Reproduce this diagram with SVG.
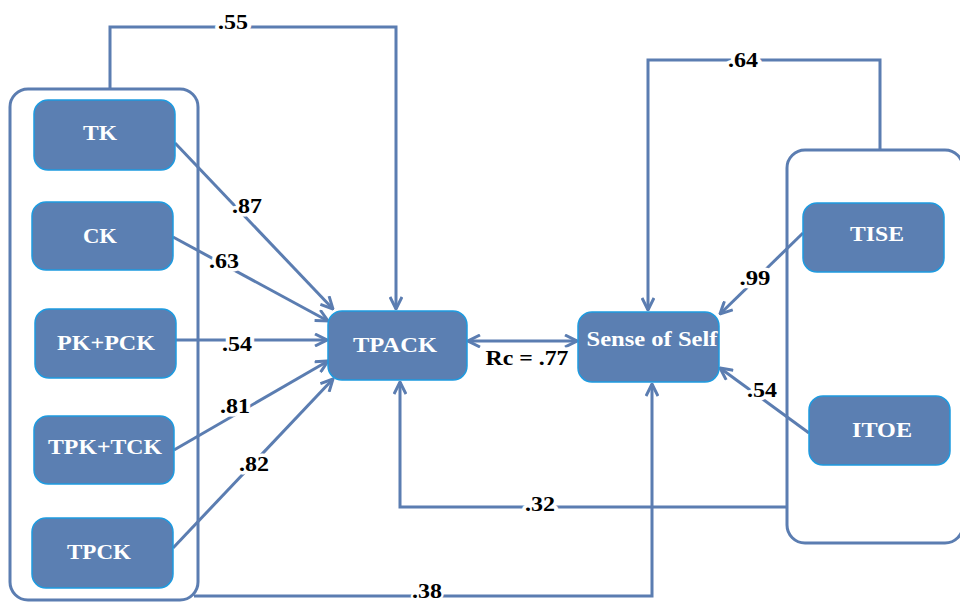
<svg xmlns="http://www.w3.org/2000/svg" width="960" height="603" viewBox="0 0 960 603">
<style>
.cont{fill:none;stroke:#5B7DB1;stroke-width:3}
.node{fill:#5B7FB2;stroke:#1E9BE0;stroke-width:1.5}
.nt{font-family:'Liberation Serif','Times New Roman','DejaVu Serif',serif;font-weight:700;font-size:22px;fill:#fff;text-anchor:middle}
.ln{fill:none;stroke:#5B7DB1;stroke-width:3}
.lbl{font-family:'Liberation Serif','Times New Roman','DejaVu Serif',serif;font-weight:700;font-size:21px;fill:#000;text-anchor:middle;stroke:#fff;stroke-width:7;paint-order:stroke;stroke-linejoin:round}
</style>
<defs>
<marker id="ah" viewBox="0 0 14 14" refX="13" refY="7" markerWidth="14" markerHeight="14" markerUnits="userSpaceOnUse" orient="auto-start-reverse">
<path d="M1,1 L13,7 L1,13" fill="none" stroke="#5B7DB1" stroke-width="3"/>
</marker>
</defs>
<rect width="960" height="603" fill="#fff"/>
<g id="groups">
<rect id="left-group" class="cont" x="10" y="89" width="188" height="511" rx="18"/>
<rect id="right-group" class="cont" x="787" y="150" width="176" height="393" rx="18"/>
</g>
<g id="connectors">
<polyline class="ln" points="110,89 110,27 396,27 396,309" marker-end="url(#ah)"/>
<polyline class="ln" points="880,150 880,60 648,60 648,310" marker-end="url(#ah)"/>
<line class="ln" x1="175" y1="143" x2="333" y2="309" marker-end="url(#ah)"/>
<line class="ln" x1="173" y1="237" x2="328" y2="321" marker-end="url(#ah)"/>
<line class="ln" x1="176" y1="340" x2="327" y2="340" marker-end="url(#ah)"/>
<line class="ln" x1="174" y1="450" x2="328" y2="361" marker-end="url(#ah)"/>
<line class="ln" x1="173" y1="548" x2="333" y2="379" marker-end="url(#ah)"/>
<line class="ln" x1="468" y1="341" x2="577" y2="341" marker-start="url(#ah)" marker-end="url(#ah)"/>
<line class="ln" x1="803" y1="233" x2="720" y2="314" marker-end="url(#ah)"/>
<line class="ln" x1="809" y1="433" x2="720" y2="368" marker-end="url(#ah)"/>
<polyline class="ln" points="787,507 400,507 400,382" marker-end="url(#ah)"/>
<polyline class="ln" points="194,596 652,596 652,384" marker-end="url(#ah)"/>
<text class="lbl" x="233" y="29" textLength="30" lengthAdjust="spacingAndGlyphs">.55</text>
<text class="lbl" x="743" y="67" textLength="30" lengthAdjust="spacingAndGlyphs">.64</text>
<text class="lbl" x="247" y="213" textLength="30" lengthAdjust="spacingAndGlyphs">.87</text>
<text class="lbl" x="224" y="268" textLength="30" lengthAdjust="spacingAndGlyphs">.63</text>
<text class="lbl" x="237" y="351" textLength="30" lengthAdjust="spacingAndGlyphs">.54</text>
<text class="lbl" x="235" y="413" textLength="30" lengthAdjust="spacingAndGlyphs">.81</text>
<text class="lbl" x="254" y="471" textLength="30" lengthAdjust="spacingAndGlyphs">.82</text>
<text class="lbl" x="527" y="365" textLength="83" lengthAdjust="spacingAndGlyphs">Rc = .77</text>
<text class="lbl" x="755" y="285" textLength="31" lengthAdjust="spacingAndGlyphs">.99</text>
<text class="lbl" x="762" y="397" textLength="30" lengthAdjust="spacingAndGlyphs">.54</text>
<text class="lbl" x="540" y="511" textLength="30" lengthAdjust="spacingAndGlyphs">.32</text>
<text class="lbl" x="427" y="598" textLength="30" lengthAdjust="spacingAndGlyphs" style="stroke-width:4">.38</text>
</g>
<g id="TK"><rect class="node" x="34" y="100" width="141" height="70" rx="14"/><text class="nt" x="100" y="140" textLength="34" lengthAdjust="spacingAndGlyphs">TK</text></g>
<g id="CK"><rect class="node" x="32" y="202" width="141" height="68" rx="14"/><text class="nt" x="100" y="243" textLength="34" lengthAdjust="spacingAndGlyphs">CK</text></g>
<g id="PK_PCK"><rect class="node" x="35" y="309" width="141" height="69" rx="14"/><text class="nt" x="106" y="350" textLength="98" lengthAdjust="spacingAndGlyphs">PK+PCK</text></g>
<g id="TPK_TCK"><rect class="node" x="34" y="416" width="140" height="68" rx="14"/><text class="nt" x="105" y="454" textLength="114" lengthAdjust="spacingAndGlyphs">TPK+TCK</text></g>
<g id="TPCK"><rect class="node" x="32" y="518" width="141" height="70" rx="14"/><text class="nt" x="99" y="559" textLength="64" lengthAdjust="spacingAndGlyphs">TPCK</text></g>
<g id="TPACK"><rect class="node" x="328" y="311" width="139" height="69" rx="14"/><text class="nt" x="395" y="352" textLength="84" lengthAdjust="spacingAndGlyphs">TPACK</text></g>
<g id="SenseOfSelf"><rect class="node" x="578" y="312" width="141" height="70" rx="14"/><text class="nt" x="652" y="346" textLength="131" lengthAdjust="spacingAndGlyphs">Sense of Self</text></g>
<g id="TISE"><rect class="node" x="803" y="203" width="141" height="69" rx="14"/><text class="nt" x="877" y="241" textLength="54" lengthAdjust="spacingAndGlyphs">TISE</text></g>
<g id="ITOE"><rect class="node" x="809" y="396" width="141" height="69" rx="14"/><text class="nt" x="882" y="437" textLength="60" lengthAdjust="spacingAndGlyphs">ITOE</text></g>
</svg>
